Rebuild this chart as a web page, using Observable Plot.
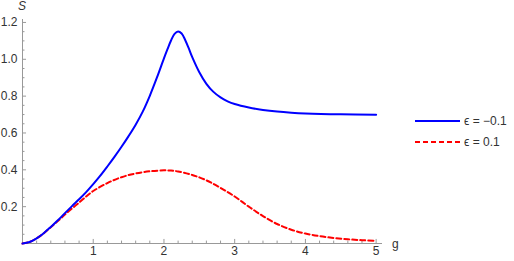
<!DOCTYPE html>
<html><head><meta charset="utf-8">
<script src="https://cdn.jsdelivr.net/npm/d3@7"></script>
<script src="https://cdn.jsdelivr.net/npm/@observablehq/plot@0.6"></script>
<style>
body{margin:0;background:#fff;}
#wrap{position:relative;width:514px;height:261px;font-family:"Liberation Sans",Arial,sans-serif;color:#333;}
#wrap svg{display:block;}
.lbl{position:absolute;font-size:12px;line-height:12px;color:#333;}
#legend{position:absolute;left:414px;top:110px;font-size:12px;color:#333;}
#legend .row{display:flex;align-items:center;height:21px;}
#legend svg{margin-right:4px;}
</style></head><body><div id="wrap"></div>
<script>
// data
const gBlue = [0,0.1,0.2,0.3,0.4,0.5,0.6,0.7,0.8,0.9,1.0,1.1,1.2,1.3,1.4,1.5,1.6,1.7,1.8,1.9,2.0,2.05,2.1,2.15,2.2,2.25,2.3,2.35,2.4,2.5,2.6,2.7,2.8,2.9,3.0,3.2,3.4,3.6,3.8,4.0,4.5,5.0];
const sBlue = [0,0.008,0.028,0.056,0.09,0.126,0.165,0.203,0.24,0.279,0.322,0.368,0.418,0.47,0.525,0.583,0.645,0.716,0.802,0.9,1.005,1.055,1.102,1.138,1.151,1.14,1.105,1.06,1.012,0.93,0.867,0.823,0.793,0.772,0.757,0.738,0.725,0.716,0.71,0.706,0.701,0.699];
const gRed = [0,0.1,0.2,0.3,0.4,0.5,0.6,0.7,0.8,0.9,1.0,1.2,1.4,1.6,1.8,2.0,2.1,2.2,2.4,2.6,2.8,3.0,3.2,3.4,3.6,3.8,4.0,4.2,4.4,4.6,4.8,5.0];
const sRed = [0,0.008,0.028,0.055,0.088,0.122,0.157,0.19,0.222,0.255,0.285,0.328,0.36,0.38,0.392,0.397,0.396,0.391,0.372,0.343,0.302,0.255,0.2,0.149,0.106,0.075,0.054,0.04,0.03,0.023,0.018,0.015];
const seriesNames = ["ϵ = −0.1", "ϵ = 0.1"];
const seriesColors = ["#0000ff", "#ff0000"];
const xTickValues = [1,2,3,4,5];
const yTickValues = [0.2,0.4,0.6,0.8,1.0,1.2];
const xMinorTicks = [0.2,0.4,0.6,0.8,1.2,1.4,1.6,1.8,2.2,2.4,2.6,2.8,3.2,3.4,3.6,3.8,4.2,4.4,4.6,4.8];
const yMinorTicks = [0.05,0.1,0.15,0.25,0.3,0.35,0.45,0.5,0.55,0.65,0.7,0.75,0.85,0.9,0.95,1.05,1.1,1.15];
const xDomain = [0, 5.09];
const yDomain = [0, 1.216];
const xLabel = "g", yLabel = "S";

const blue = gBlue.map((g,i)=>({g, s:sBlue[i]}));
const red = gRed.map((g,i)=>({g, s:sRed[i]}));
const axisColor = "#999";

const plot = Plot.plot({
  width: 514, height: 261,
  marginLeft: 22, marginRight: 132, marginTop: 19, marginBottom: 18,
  style: {fontFamily: '"Liberation Sans", Arial, sans-serif', fontSize: "12px", color: "#333", background: "#fff"},
  x: {domain: xDomain},
  y: {domain: yDomain},
  marks: [
    Plot.axisX({ticks: xTickValues, tickSize: 0, tickPadding: 3, label: null, tickFormat: d=>String(d), fill: "#333"}),
    Plot.axisY({ticks: yTickValues, tickSize: 0, tickPadding: 5, label: null, tickFormat: d=>d.toFixed(1), fill: "#333"}),
    Plot.ruleY([0], {stroke: axisColor, strokeWidth: 1}),
    Plot.ruleX([0], {stroke: axisColor, strokeWidth: 1}),
    Plot.ruleX(xTickValues, {x: d=>d, y1: 0, y2: 0.022, stroke: axisColor}),
    Plot.ruleX(xMinorTicks, {x: d=>d, y1: 0, y2: 0.013, stroke: axisColor}),
    Plot.ruleY(yTickValues, {y: d=>d, x1: 0, x2: 0.057, stroke: axisColor}),
    Plot.ruleY(yMinorTicks, {y: d=>d, x1: 0, x2: 0.035, stroke: axisColor}),
    Plot.line(red, {x: "g", y: "s", stroke: seriesColors[1], strokeWidth: 2, strokeDasharray: "5,3", curve: "catmull-rom"}),
    Plot.line(blue, {x: "g", y: "s", stroke: seriesColors[0], strokeWidth: 2, curve: "catmull-rom"})
  ]
});
const wrap = document.getElementById("wrap");
wrap.appendChild(plot);

const sl = document.createElement("div");
sl.className = "lbl"; sl.style.left = "18px"; sl.style.top = "0px"; sl.style.fontStyle = "italic";
sl.textContent = yLabel; wrap.appendChild(sl);
const gl = document.createElement("div");
gl.className = "lbl"; gl.style.left = "392px"; gl.style.top = "238px";
gl.textContent = xLabel; wrap.appendChild(gl);

const legend = document.createElement("div");
legend.id = "legend";
seriesNames.forEach((name, i) => {
  const row = document.createElement("div");
  row.className = "row";
  const dash = i === 1 ? ' stroke-dasharray="5,3"' : '';
  row.innerHTML = `<svg width="46" height="4"><line x1="1" y1="2" x2="46" y2="2" stroke="${seriesColors[i]}" stroke-width="2"${dash}/></svg><span>${name}</span>`;
  legend.appendChild(row);
});
wrap.appendChild(legend);
</script></body></html>
